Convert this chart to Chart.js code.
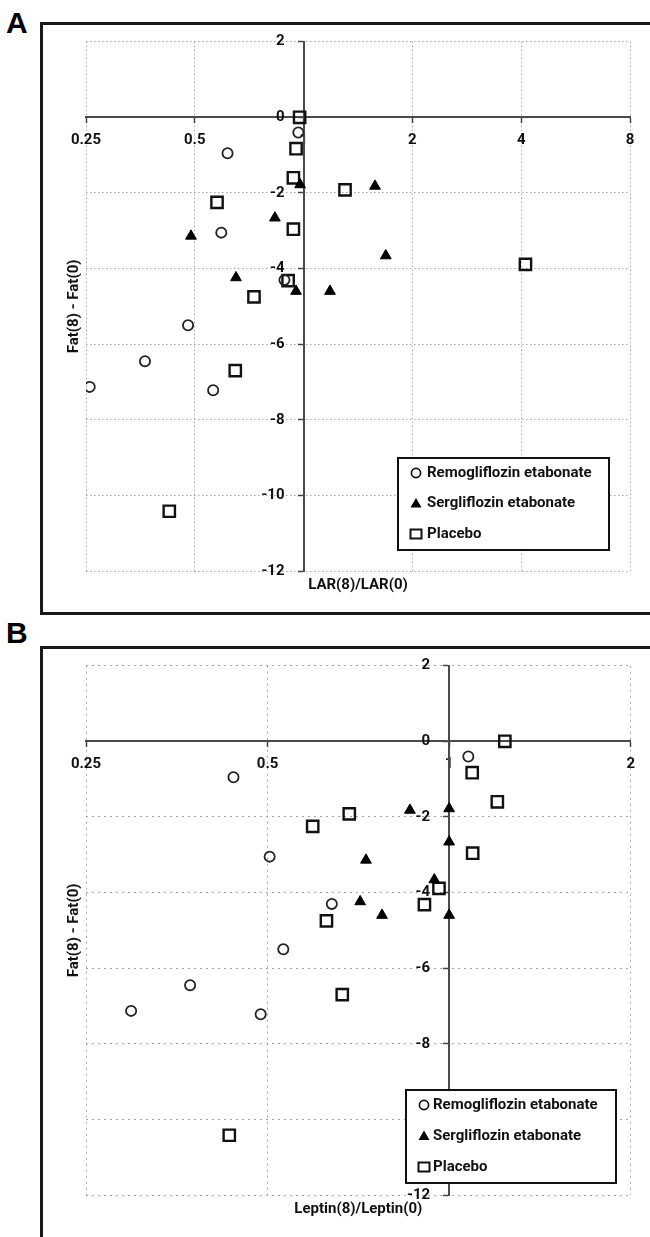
<!DOCTYPE html>
<html>
<head>
<meta charset="utf-8">
<script src="https://cdn.jsdelivr.net/npm/chart.js@4.4.0/dist/chart.umd.min.js"></script>
<style>
  html, body { margin: 0; padding: 0; background: #fff; overflow: hidden; }
  body { width: 650px; height: 1237px; position: relative; font-family: "Liberation Sans", Arial, sans-serif; }
  .letter { position: absolute; font-weight: bold; font-size: 30px; line-height: 1; color: #000; }
  .frame { position: absolute; border: 3px solid #1a1a1a; box-sizing: border-box; }
  canvas { position: absolute; }
</style>
</head>
<body>
<div class="letter" style="left:6px;top:8px">A</div>
<div class="frame" style="left:40px;top:22px;width:700px;height:593px"></div>
<canvas id="chartA" width="607" height="587" style="left:43px;top:25px"></canvas>

<div class="letter" style="left:6px;top:618px">B</div>
<div class="frame" style="left:40px;top:646px;width:700px;height:700px"></div>
<canvas id="chartB" width="607" height="588" style="left:43px;top:649px"></canvas>

<script>
// Fat(8) - Fat(0), one value per subject (same subjects in both panels)
const fatRemo = [-0.4, -0.95, -3.05, -4.3, -5.5, -6.45, -7.13, -7.22];
const fatSerg = [-1.78, -1.82, -2.66, -3.14, -3.66, -4.24, -4.6, -4.6];
const fatPlacebo = [0, -0.83, -1.6, -1.92, -2.25, -2.96, -3.89, -4.32, -4.75, -6.7, -10.42];

// LAR(8)/LAR(0) - panel A
const larRemo = [0.967, 0.616, 0.592, 0.885, 0.479, 0.364, 0.256, 0.562];
const larSerg = [0.978, 1.576, 0.833, 0.488, 1.688, 0.65, 0.953, 1.183];
const larPlacebo = [0.975, 0.953, 0.937, 1.302, 0.576, 0.937, 4.11, 0.906, 0.729, 0.647, 0.425];

// Leptin(8)/Leptin(0) - panel B
const leptinRemo = [1.076, 0.439, 0.504, 0.639, 0.531, 0.372, 0.297, 0.487];
const leptinSerg = [1.0, 0.861, 1.0, 0.728, 0.945, 0.712, 0.774, 1.0];
const leptinPlacebo = [1.237, 1.092, 1.202, 0.683, 0.594, 1.094, 0.962, 0.91, 0.626, 0.665, 0.432];

const seriesNames = ['Remogliflozin etabonate', 'Sergliflozin etabonate', 'Placebo'];
const larTicks = [0.25, 0.5, 1, 2, 4, 8];
const leptinTicks = [0.25, 0.5, 1, 2];
const fatMin = -12, fatMax = 2, fatStep = 2;

const labelFont = 'bold 15px Roboto';

function pts(xs, ys) {
    return xs.map((x, i) => ({ x: x, y: ys[i] }));
}

function drawMarker(ctx, style, x, y) {
    ctx.save();
    ctx.strokeStyle = '#111';
    ctx.fillStyle = '#000';
    ctx.beginPath();
    if (style === 'circle') {
        ctx.lineWidth = 1.7;
        ctx.arc(x, y, 4.6, 0, Math.PI * 2);
        ctx.stroke();
    } else if (style === 'triangle') {
        ctx.moveTo(x, y - 5.5);
        ctx.lineTo(x + 5.5, y + 4);
        ctx.lineTo(x - 5.5, y + 4);
        ctx.closePath();
        ctx.fill();
    } else {
        ctx.lineWidth = 2;
        ctx.rect(x - 5.5, y - 4.5, 11, 9);
        ctx.stroke();
    }
    ctx.restore();
}

// axis titles + boxed legend inside the plot
const panelDecor = {
    id: 'panelDecor',
    afterDraw(chart, args, o) {
        const ctx = chart.ctx;
        const ca = chart.chartArea;
        ctx.save();
        ctx.fillStyle = '#111';
        ctx.font = labelFont;
        ctx.textAlign = 'center';
        ctx.textBaseline = 'middle';
        ctx.fillText(o.xTitle, (ca.left + ca.right) / 2, o.xTitleY);
        ctx.translate(o.yTitleX, (ca.top + ca.bottom) / 2);
        ctx.rotate(-Math.PI / 2);
        ctx.fillText(o.yTitle, 0, 0);
        ctx.restore();

        ctx.save();
        ctx.fillStyle = '#fff';
        ctx.fillRect(o.boxX, o.boxY, o.boxW, o.boxH);
        ctx.lineWidth = 2;
        ctx.strokeStyle = '#111';
        ctx.strokeRect(o.boxX, o.boxY, o.boxW, o.boxH);
        ctx.font = labelFont;
        ctx.textAlign = 'left';
        ctx.textBaseline = 'middle';
        ctx.fillStyle = '#111';
        chart.data.datasets.forEach((ds, i) => {
            const y = o.rowY + i * o.rowGap;
            drawMarker(ctx, ds.pointStyle, o.markerX, y);
            ctx.fillText(ds.label, o.textX, y);
        });
        ctx.restore();
    }
};

function makeChart(id, xr, xs, pad, gridDash, decor) {
    return new Chart(document.getElementById(id), {
        type: 'scatter',
        data: {
            datasets: [{
                label: seriesNames[0],
                data: pts(xr[0], fatRemo),
                pointStyle: 'circle',
                pointRadius: 5.1,
                borderWidth: 1.8,
                borderColor: '#222',
                backgroundColor: 'rgba(0,0,0,0)'
            }, {
                label: seriesNames[1],
                data: pts(xr[1], fatSerg),
                pointStyle: 'triangle',
                pointRadius: 6.2,
                borderWidth: 1,
                borderColor: '#000',
                backgroundColor: '#000'
            }, {
                label: seriesNames[2],
                data: pts(xr[2], fatPlacebo),
                pointStyle: 'rect',
                pointRadius: 8,
                borderWidth: 2.4,
                borderColor: '#111',
                backgroundColor: 'rgba(0,0,0,0)'
            }]
        },
        options: {
            responsive: false,
            animation: false,
            events: [],
            layout: { padding: pad },
            plugins: {
                legend: { display: false },
                tooltip: { enabled: false },
                panelDecor: decor
            },
            scales: {
                x: {
                    type: 'logarithmic',
                    position: { y: 0 },
                    min: xs[0],
                    max: xs[xs.length - 1],
                    afterBuildTicks: (scale) => {
                        scale.ticks = xs.map(v => ({ value: v }));
                    },
                    ticks: {
                        autoSkip: false,
                        maxRotation: 0,
                        minRotation: 0,
                        padding: 9,
                        color: '#111',
                        font: { family: 'Roboto', size: 15, weight: 'bold' },
                        callback: (v) => String(v)
                    },
                    grid: {
                        color: '#a5a5a5',
                        lineWidth: 1,
                        tickLength: 5,
                        tickColor: '#444',
                        tickWidth: 1.5,
                        tickBorderDash: []
                    },
                    border: { display: true, color: '#4a4a4a', width: 2, dash: gridDash }
                },
                y: {
                    type: 'linear',
                    position: { x: 1 },
                    min: fatMin,
                    max: fatMax,
                    ticks: {
                        stepSize: fatStep,
                        padding: 6,
                        color: '#111',
                        font: { family: 'Roboto', size: 15, weight: 'bold' },
                        callback: (v) => v + '\u2002\u2002 '
                    },
                    grid: {
                        color: '#a5a5a5',
                        lineWidth: 1,
                        tickLength: 5,
                        tickColor: '#444',
                        tickWidth: 1.5,
                        tickBorderDash: []
                    },
                    border: { display: true, color: '#4a4a4a', width: 2, dash: gridDash }
                }
            }
        },
        plugins: [panelDecor]
    });
}

function build() {
    makeChart('chartA', [larRemo, larSerg, larPlacebo], larTicks,
        { left: 43, right: 20, top: 16.7, bottom: 41 }, [1.5, 2.5],
        { xTitle: 'LAR(8)/LAR(0)', yTitle: 'Fat(8) - Fat(0)', xTitleY: 560, yTitleX: 31.5,
          boxX: 355, boxY: 433, boxW: 211, boxH: 92, rowY: 448, rowGap: 30.5, markerX: 373, textX: 384 });

    makeChart('chartB', [leptinRemo, leptinSerg, leptinPlacebo], leptinTicks,
        { left: 43, right: 19.3, top: 16.7, bottom: 42 }, [2, 4],
        { xTitle: 'Leptin(8)/Leptin(0)', yTitle: 'Fat(8) - Fat(0)', xTitleY: 560, yTitleX: 31.5,
          boxX: 363, boxY: 441, boxW: 210, boxH: 93, rowY: 456, rowGap: 31, markerX: 381, textX: 390 });
}

if (document.fonts && document.fonts.load) {
    document.fonts.load(labelFont).then(build, build);
} else {
    build();
}
</script>
</body>
</html>
